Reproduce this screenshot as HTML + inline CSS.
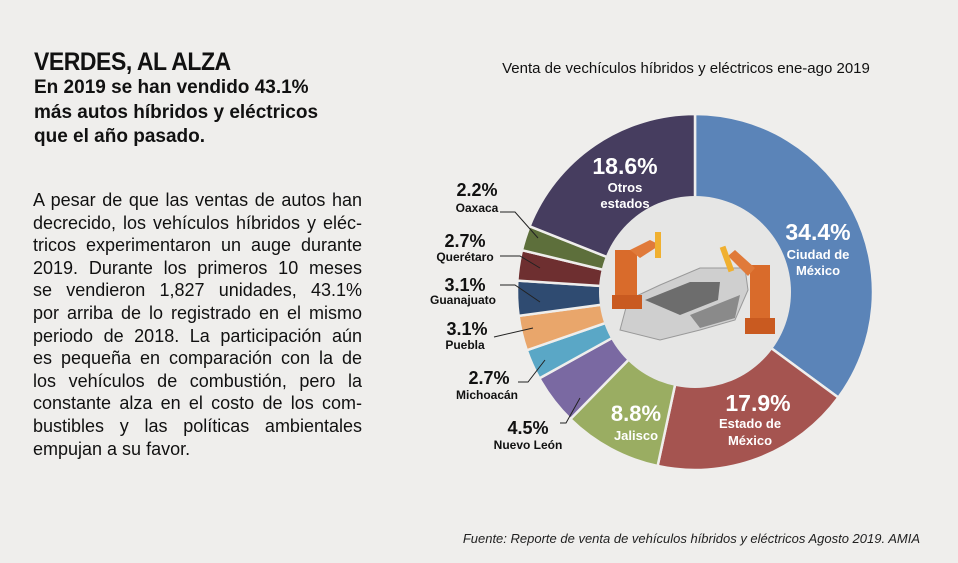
<!DOCTYPE html>
<html><head><meta charset="utf-8">
<style>
html,body{margin:0;padding:0}
body{width:958px;height:563px;background:#efeeec;position:relative;overflow:hidden;font-family:"Liberation Sans",sans-serif;color:#111}
#title{position:absolute;left:34px;top:48px;font-size:25px;font-weight:bold;letter-spacing:-0.5px;transform:scaleX(0.92);transform-origin:left}
#sub{position:absolute;left:34px;top:76px;font-size:19px;font-weight:bold;line-height:24.5px;width:330px}
#body{position:absolute;left:33px;top:189px;width:329px;font-size:18px;line-height:22.6px}
#body div{text-align:justify;text-align-last:justify;white-space:nowrap;overflow:visible}
#body div.last{text-align-last:left}
#source{position:absolute;right:38px;top:531px;font-size:13px;font-style:italic;color:#222}
</style></head><body>
<div id="title">VERDES, AL ALZA</div>
<div id="sub">En 2019 se han vendido 43.1%<br>más autos híbridos y eléctricos<br>que el año pasado.</div>
<div id="body">
<div>A pesar de que las ventas de autos han</div>
<div>decrecido, los vehículos híbridos y eléc-</div>
<div>tricos experimentaron un auge durante</div>
<div>2019. Durante los primeros 10 meses</div>
<div>se vendieron 1,827 unidades, 43.1%</div>
<div>por arriba de lo registrado en el mismo</div>
<div>periodo de 2018. La participación aún</div>
<div>es pequeña en comparación con la de</div>
<div>los vehículos de combustión, pero la</div>
<div>constante alza en el costo de los com-</div>
<div>bustibles y las políticas ambientales</div>
<div class="last">empujan a su favor.</div>
</div>
<div id="source">Fuente: Reporte de venta de vehículos híbridos y eléctricos Agosto 2019. AMIA</div>

<svg id="chart" width="958" height="563" style="position:absolute;left:0;top:0">
<text x="686" y="73" text-anchor="middle" font-size="15" fill="#111">Venta de vechículos híbridos y eléctricos ene-ago 2019</text>
<g id="slices"></g>
<circle cx="695" cy="292" r="96" fill="#e6e6e5"/>
<g>
<path d="M620 330 L628 300 L660 285 L700 268 L745 268 L748 290 L735 320 L700 330 L660 340 Z" fill="#cfcfcf" stroke="#999" stroke-width="1"/>
<path d="M645 300 L690 282 L720 282 L718 300 L680 315 Z" fill="#6d6d6d"/>
<path d="M690 315 L740 295 L735 318 L700 328 Z" fill="#8a8a8a"/>
<rect x="615" y="250" width="22" height="55" fill="#d96b2b"/>
<rect x="612" y="295" width="30" height="14" fill="#c95a20"/>
<path d="M630 250 L650 240 L660 245 L640 258 Z" fill="#e07a3a"/>
<rect x="655" y="232" width="6" height="26" fill="#f0b030"/>
<rect x="750" y="265" width="20" height="60" fill="#d96b2b"/>
<rect x="745" y="318" width="30" height="16" fill="#c95a20"/>
<path d="M755 268 L735 250 L728 256 L748 276 Z" fill="#e07a3a"/>
<rect x="724" y="246" width="6" height="26" fill="#f0b030" transform="rotate(-20 727 259)"/>
</g>
<g id="labels" font-weight="bold" fill="#fff" text-anchor="middle">
<text x="625" y="174" font-size="23">18.6%</text>
<text x="625" y="192" font-size="13">Otros</text>
<text x="625" y="208" font-size="13">estados</text>
<text x="818" y="240" font-size="23">34.4%</text>
<text x="818" y="259" font-size="13">Ciudad de</text>
<text x="818" y="275" font-size="13">México</text>
<text x="758" y="411" font-size="23">17.9%</text>
<text x="750" y="428" font-size="13">Estado de</text>
<text x="750" y="445" font-size="13">México</text>
<text x="636" y="421" font-size="22">8.8%</text>
<text x="636" y="440" font-size="13">Jalisco</text>
</g>
<g id="ext" font-weight="bold" fill="#111" text-anchor="middle" stroke-width="1">
<text x="477" y="196" font-size="18">2.2%</text>
<text x="477" y="212" font-size="12">Oaxaca</text>
<polyline points="500,212 515,212 538,238" fill="none" stroke="#222"/>
<text x="465" y="247" font-size="18">2.7%</text>
<text x="465" y="261" font-size="12">Querétaro</text>
<polyline points="500,256 520,256 540,268" fill="none" stroke="#222"/>
<text x="465" y="291" font-size="18">3.1%</text>
<text x="463" y="304" font-size="12">Guanajuato</text>
<polyline points="500,285 515,285 540,302" fill="none" stroke="#222"/>
<text x="467" y="335" font-size="18">3.1%</text>
<text x="465" y="349" font-size="12">Puebla</text>
<polyline points="494,337 533,328" fill="none" stroke="#222"/>
<text x="489" y="384" font-size="18">2.7%</text>
<text x="487" y="399" font-size="12">Michoacán</text>
<polyline points="518,382 528,382 545,360" fill="none" stroke="#222"/>
<text x="528" y="434" font-size="18">4.5%</text>
<text x="528" y="449" font-size="12">Nuevo León</text>
<polyline points="560,423 566,423 580,398" fill="none" stroke="#222"/>
</g>
</svg>
<script>
const categories = ["Ciudad de México","Estado de México","Jalisco","Nuevo León","Michoacán","Puebla","Guanajuato","Querétaro","Oaxaca","Otros estados"];
const shares = [34.4,17.9,8.8,4.5,2.7,3.1,3.1,2.7,2.2,18.6];
const colors = ["#5b84b8","#a55450","#9aad62","#7a69a2","#5aa7c6","#e9a66b","#2f4b71","#6e2f30","#5d6f3b","#463d5f"];
const cx=695, cy=292, R=178, r=90;
const total = shares.reduce((a,b)=>a+b,0);
function angleOf(v){ return v/total*2*Math.PI; }
function pt(rad,a){ return [cx+rad*Math.sin(a), cy-rad*Math.cos(a)]; }
const g=document.getElementById('slices');
let acc=0;
shares.forEach((v,i)=>{
  const a0=angleOf(acc), a1=angleOf(acc+v); acc+=v;
  const large=(a1-a0)>Math.PI?1:0;
  const p0=pt(R,a0),p1=pt(R,a1),q1=pt(r,a1),q0=pt(r,a0);
  const p=document.createElementNS('http://www.w3.org/2000/svg','path');
  p.setAttribute('d',`M${p0[0]},${p0[1]} A${R},${R} 0 ${large} 1 ${p1[0]},${p1[1]} L${q1[0]},${q1[1]} A${r},${r} 0 ${large} 0 ${q0[0]},${q0[1]} Z`);
  p.setAttribute('fill',colors[i]);
  p.setAttribute('stroke','#efeeec');
  p.setAttribute('stroke-width','2.5');
  
  
  g.appendChild(p);
});
</script>
</body></html>
